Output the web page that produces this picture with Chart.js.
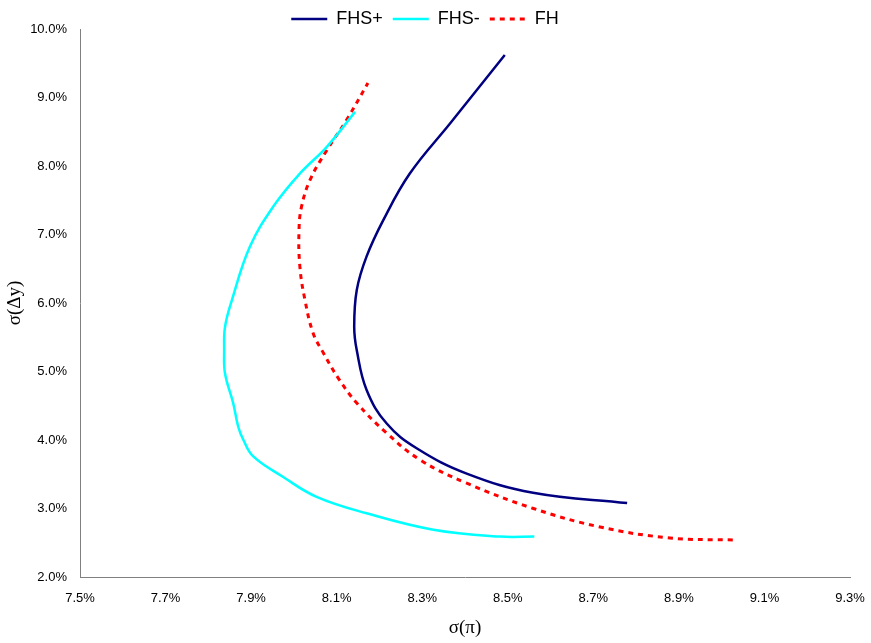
<!DOCTYPE html>
<html>
<head>
<meta charset="utf-8">
<script src="https://cdn.jsdelivr.net/npm/chart.js@4"></script>
<style>
  html, body { margin: 0; padding: 0; background: #fff; }
  #wrap { width: 871px; height: 643px; }
</style>
</head>
<body>
<div id="wrap"><canvas id="frontierChart" width="871" height="643"></canvas></div>
<script>
// values, in percent
const fhsPlusX = [8.779, 8.559, 8.404, 8.287, 8.217, 8.170, 8.147, 8.141, 8.147, 8.170, 8.209, 8.271, 8.365, 8.493];
const fhsPlusY = [3.08, 3.23, 3.51, 3.88, 4.24, 4.73, 5.31, 5.65, 6.19, 6.68, 7.21, 7.89, 8.62, 9.62];

const fhsMinusX = [8.562, 8.482, 8.326, 8.170, 8.053, 7.975, 7.905, 7.882, 7.870, 7.858, 7.839, 7.837, 7.839, 7.855, 7.897, 7.952, 8.014, 8.077, 8.143];
const fhsMinusY = [2.59, 2.59, 2.69, 2.93, 3.17, 3.46, 3.76, 4.00, 4.19, 4.54, 4.97, 5.31, 5.65, 6.04, 6.82, 7.41, 7.89, 8.28, 8.79];

const fhX = [9.026, 8.879, 8.716, 8.560, 8.404, 8.295, 8.217, 8.147, 8.104, 8.069, 8.045, 8.026, 8.014, 8.012, 8.018, 8.038, 8.077, 8.123, 8.173];
const fhY = [2.54, 2.57, 2.73, 3.00, 3.37, 3.71, 4.10, 4.54, 4.90, 5.27, 5.56, 6.04, 6.53, 7.07, 7.41, 7.80, 8.23, 8.67, 9.21];

const xTicks = [7.5, 7.7, 7.9, 8.1, 8.3, 8.5, 8.7, 8.9, 9.1, 9.3];
const yTicks = [2, 3, 4, 5, 6, 7, 8, 9, 10];

function toPoints(xs, ys) {
  return xs.map((x, i) => ({ x: x, y: ys[i] }));
}

// keep the legend box short so the plot starts near the top
const legendHeight = {
  id: 'legendHeight',
  afterInit(chart) {
    const lg = chart.legend;
    if (!lg) return;
    const fit = lg.fit;
    lg.fit = function () {
      fit.call(this);
      this.height = 29;
    };
  }
};

const ctx = document.getElementById('frontierChart').getContext('2d');
const frontierChart = new Chart(ctx, {
  type: 'scatter',
  data: {
    datasets: [{
      label: 'FHS+',
      data: toPoints(fhsPlusX, fhsPlusY),
      showLine: true,
      borderColor: '#000080',
      backgroundColor: '#000080',
      borderWidth: 2.5,
      tension: 0.4,
      pointRadius: 0
    }, {
      label: 'FHS-',
      data: toPoints(fhsMinusX, fhsMinusY),
      showLine: true,
      borderColor: '#00ffff',
      backgroundColor: '#00ffff',
      borderWidth: 2.5,
      tension: 0.4,
      pointRadius: 0
    }, {
      label: 'FH',
      data: toPoints(fhX, fhY),
      showLine: true,
      borderColor: '#ff0000',
      backgroundColor: '#ff0000',
      borderWidth: 3,
      borderDash: [5, 5],
      tension: 0.4,
      pointRadius: 0
    }]
  },
  options: {
    responsive: false,
    animation: false,
    layout: { padding: { top: 0, right: 21, left: 0, bottom: 0 } },
    plugins: {
      tooltip: { enabled: false },
      legend: {
        position: 'top',
        labels: {
          usePointStyle: true,
          pointStyle: 'line',
          pointStyleWidth: 36,
          boxHeight: 3,
          padding: 10,
          color: '#000',
          font: { family: 'Liberation Sans, Arial, sans-serif', size: 18 },
          generateLabels: (chart) => {
            const items = Chart.defaults.plugins.legend.labels.generateLabels(chart);
            return items.map(item => {
              const ds = chart.data.datasets[item.datasetIndex];
              item.lineDash = ds.borderDash || [];
              item.lineWidth = ds.borderWidth;
              item.strokeStyle = ds.borderColor;
              return item;
            });
          }
        }
      }
    },
    scales: {
      x: {
        type: 'linear',
        min: 7.5,
        max: 9.3,
        afterBuildTicks: (axis) => { axis.ticks = xTicks.map(v => ({ value: v })); },
        afterFit: (axis) => {
          axis.height = 66;
          axis.paddingRight = 0;
        },
        grid: { display: false, drawTicks: true, tickLength: 5, tickColor: '#000' },
        border: { display: true, color: '#808080', width: 1 },
        ticks: {
          color: '#000',
          padding: 9,
          font: { family: 'Liberation Sans, Arial, sans-serif', size: 13 },
          callback: (v) => v.toFixed(1) + '%'
        },
        title: {
          display: true,
          text: 'σ(π)',
          color: '#000',
          padding: { top: 2 },
          font: { family: 'Liberation Serif, Times New Roman, serif', size: 19 }
        }
      },
      y: {
        type: 'linear',
        min: 2,
        max: 10,
        afterBuildTicks: (axis) => { axis.ticks = yTicks.map(v => ({ value: v })); },
        afterFit: (axis) => { axis.width = 80; },
        grid: { display: false, drawTicks: true, tickLength: 5, tickColor: '#000' },
        border: { display: true, color: '#808080', width: 1 },
        ticks: {
          color: '#000',
          padding: 8,
          font: { family: 'Liberation Sans, Arial, sans-serif', size: 13 },
          callback: (v) => v.toFixed(1) + '%'
        },
        title: {
          display: true,
          text: 'σ(Δy)',
          color: '#000',
          padding: { bottom: 4 },
          font: { family: 'Liberation Serif, Times New Roman, serif', size: 19 }
        }
      }
    }
  },
  plugins: [legendHeight]
});
</script>
</body>
</html>
